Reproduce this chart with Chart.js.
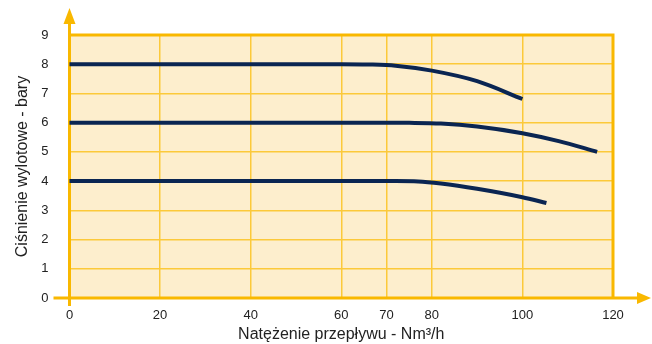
<!DOCTYPE html>
<html>
<head>
<meta charset="utf-8">
<script src="https://cdn.jsdelivr.net/npm/chart.js@4.4.1/dist/chart.umd.min.js"></script>
<style>
  html, body { margin: 0; padding: 0; background: #fff; }
  #wrap { width: 652px; height: 344px; }
</style>
</head>
<body>
<div id="wrap"><canvas id="wykres"></canvas></div>
<script>
// osie
const xTicks = [0, 20, 40, 60, 70, 80, 100, 120];
const yTicks = [0, 1, 2, 3, 4, 5, 6, 7, 8, 9];

// krzywe (natężenie przepływu Nm3/h -> ciśnienie bar)
const flow8 = [0, 60, 66, 72, 80, 90, 100];
const press8 = [8, 8, 7.99, 7.95, 7.78, 7.42, 6.81];

const flow6 = [0, 68, 75, 82, 90, 100, 108, 116.5];
const press6 = [6, 6, 5.995, 5.97, 5.87, 5.64, 5.37, 5.0];

const flow4 = [0, 72, 77, 82, 90, 100, 105.3];
const press4 = [4, 4, 3.99, 3.92, 3.74, 3.45, 3.25];

const ORANGE = '#f9b800';
const GRID = '#fcc93a';
const NAVY = '#0a2552';

function pts(xs, ys) {
    return xs.map((x, i) => ({ x: x, y: ys[i] }));
}

function serie(xs, ys) {
    return {
        data: pts(xs, ys),
        borderColor: NAVY,
        borderWidth: 4,
        borderCapStyle: 'butt',
        pointRadius: 0,
        cubicInterpolationMode: 'monotone',
        fill: false,
        clip: false
    };
}

// tło + obramowanie + osie ze strzałkami
const ramka = {
    id: 'ramka',
    beforeDraw(chart) {
        const { ctx, chartArea: a } = chart;
        ctx.save();
        ctx.fillStyle = '#fdeecd';
        ctx.fillRect(a.left, a.top, a.right - a.left, a.bottom - a.top);
        ctx.restore();
    },
    beforeDatasetsDraw(chart) {
        const { ctx, chartArea: a } = chart;
        ctx.save();
        ctx.strokeStyle = ORANGE;
        ctx.fillStyle = ORANGE;
        ctx.lineWidth = 3;
        // górna i prawa krawędź
        ctx.beginPath();
        ctx.moveTo(a.left, a.top);
        ctx.lineTo(a.right, a.top);
        ctx.lineTo(a.right, a.bottom);
        ctx.stroke();
        // oś Y
        ctx.beginPath();
        ctx.moveTo(a.left, a.bottom + 8);
        ctx.lineTo(a.left, 20);
        ctx.stroke();
        ctx.beginPath();
        ctx.moveTo(a.left, 8);
        ctx.lineTo(a.left - 6, 24);
        ctx.lineTo(a.left + 6, 24);
        ctx.closePath();
        ctx.fill();
        // oś X
        ctx.beginPath();
        ctx.moveTo(a.left - 16, a.bottom);
        ctx.lineTo(640, a.bottom);
        ctx.stroke();
        ctx.beginPath();
        ctx.moveTo(651, a.bottom);
        ctx.lineTo(637, a.bottom - 6);
        ctx.lineTo(637, a.bottom + 6);
        ctx.closePath();
        ctx.fill();
        ctx.restore();
    }
};

const font = { family: "'Liberation Sans', Arial, sans-serif", size: 13 };
const titleFont = { family: font.family, size: 16 };

new Chart(document.getElementById('wykres'), {
    type: 'line',
    data: {
        datasets: [serie(flow8, press8), serie(flow6, press6), serie(flow4, press4)]
    },
    options: {
        responsive: true,
        maintainAspectRatio: false,
        animation: false,
        layout: { padding: { top: 35, right: 39, left: 13, bottom: 0 } },
        plugins: { legend: { display: false }, tooltip: { enabled: false } },
        scales: {
            x: {
                type: 'linear',
                min: 0,
                max: 120,
                afterBuildTicks: s => { s.ticks = xTicks.map(v => ({ value: v })); },
                afterFit: s => { s.height = 46; },
                grid: { color: GRID, lineWidth: 1.5, drawTicks: false },
                border: { display: false },
                ticks: { color: '#222', font: font, padding: 10, maxRotation: 0, autoSkip: false },
                title: {
                    display: true,
                    text: 'Natężenie przepływu - Nm³/h',
                    color: '#222',
                    font: titleFont,
                    padding: { top: 0, bottom: 0 }
                }
            },
            y: {
                min: 0,
                max: 9,
                afterBuildTicks: s => { s.ticks = yTicks.map(v => ({ value: v })); },
                afterFit: s => { s.width = 56.5; },
                grid: { color: GRID, lineWidth: 1.5, drawTicks: false },
                border: { display: false },
                ticks: { color: '#222', font: font, padding: 21 },
                title: {
                    display: true,
                    text: 'Ciśnienie wylotowe - bary',
                    color: '#222',
                    font: titleFont,
                    padding: { top: 0, bottom: 0 }
                }
            }
        }
    },
    plugins: [ramka]
});
</script>
</body>
</html>
